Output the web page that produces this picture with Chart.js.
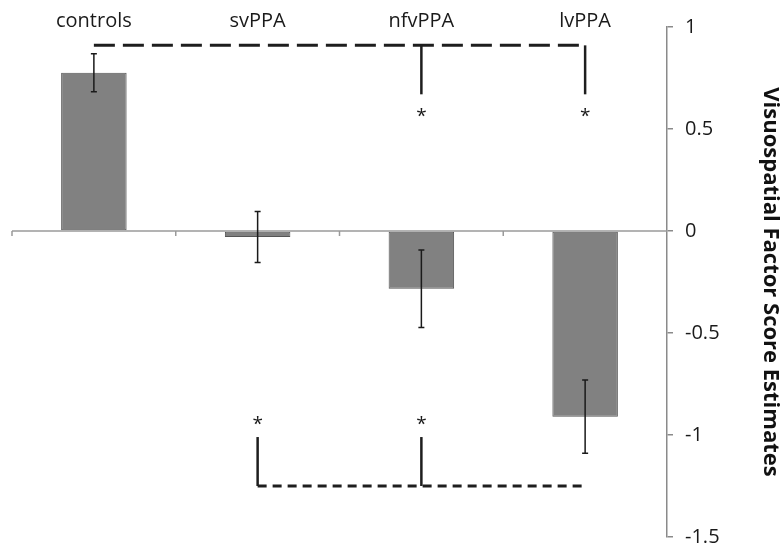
<!DOCTYPE html>
<html>
<head>
<meta charset="utf-8">
<script src="https://cdn.jsdelivr.net/npm/chart.js@4.4.1/dist/chart.umd.min.js"></script>
<style>
  html, body { margin: 0; padding: 0; background: #ffffff; }
  #wrap { width: 783px; height: 555px; position: relative; }
</style>
</head>
<body>
<div id="wrap"><canvas id="factorChart"></canvas></div>
<script>
// groups and factor score estimates
const groups = ["controls", "svPPA", "nfvPPA", "lvPPA"];
const scores = [0.776, -0.03, -0.283, -0.91];
const errors = [0.093, 0.125, 0.19, 0.18];
const yTicks = [1, 0.5, 0, -0.5, -1, -1.5];

// significance brackets
const topBracket = { from: 0, to: 3, lineY: 0.91, stemY: 0.67, starY: 0.58, stems: [2, 3], dash: [21, 8] };
const bottomBracket = { from: 1, to: 3, lineY: -1.25, stemY: -1.01, starY: -0.93, stems: [1, 2], dash: [9, 6] };

const fontFamily = "'Open Sans', 'Liberation Sans', sans-serif";

const overlayPlugin = {
    id: "overlay",
    afterDraw(chart) {
        const ctx = chart.ctx;
        const x = chart.scales.x;
        const y = chart.scales.y;
        const area = chart.chartArea;
        const y0 = y.getPixelForValue(0);

        ctx.save();
        // zero line with category separators
        ctx.strokeStyle = "#9a9a9a";
        ctx.lineWidth = 1.5;
        ctx.beginPath();
        ctx.moveTo(area.left, y0);
        ctx.lineTo(area.right, y0);
        const step = (area.right - area.left) / groups.length;
        for (let i = 0; i < groups.length; i++) {
            const bx = area.left + i * step;
            ctx.moveTo(bx, y0);
            ctx.lineTo(bx, y0 + 5);
        }
        ctx.stroke();

        // error bars
        ctx.strokeStyle = "#1a1a1a";
        ctx.lineWidth = 1.5;
        scores.forEach(function (v, i) {
            const cx = x.getPixelForValue(i);
            const hi = y.getPixelForValue(v + errors[i]);
            const lo = y.getPixelForValue(v - errors[i]);
            ctx.beginPath();
            ctx.moveTo(cx, hi);
            ctx.lineTo(cx, lo);
            ctx.moveTo(cx - 3, hi);
            ctx.lineTo(cx + 3, hi);
            ctx.moveTo(cx - 3, lo);
            ctx.lineTo(cx + 3, lo);
            ctx.stroke();
        });

        // significance brackets
        [topBracket, bottomBracket].forEach(function (b) {
            const ly = y.getPixelForValue(b.lineY);
            ctx.strokeStyle = "#1e1e1e";
            ctx.lineWidth = 3;
            ctx.setLineDash(b.dash);
            ctx.beginPath();
            ctx.moveTo(x.getPixelForValue(b.from), ly);
            ctx.lineTo(x.getPixelForValue(b.to), ly);
            ctx.stroke();
            ctx.setLineDash([]);
            ctx.lineWidth = 2.5;
            b.stems.forEach(function (g) {
                const sx = x.getPixelForValue(g);
                ctx.beginPath();
                ctx.moveTo(sx, ly);
                ctx.lineTo(sx, y.getPixelForValue(b.stemY));
                ctx.stroke();
                ctx.fillStyle = "#1a1a1a";
                ctx.font = "19px " + fontFamily;
                ctx.textAlign = "center";
                ctx.textBaseline = "middle";
                ctx.fillText("*", sx, y.getPixelForValue(b.starY) + 4);
            });
        });
        ctx.restore();
    },
};

const ctx = document.getElementById("factorChart").getContext("2d");
new Chart(ctx, {
    type: "bar",
    data: {
        labels: groups,
        datasets: [
            {
                data: scores,
                backgroundColor: "#818181",
                borderColor: "#555555",
                borderWidth: 1,
                borderSkipped: false,
                categoryPercentage: 1,
                barPercentage: 0.4,
            },
        ],
    },
    options: {
        responsive: true,
        maintainAspectRatio: false,
        animation: false,
        layout: {
            padding: { top: 0, right: 0, bottom: 18, left: 12 },
        },
        plugins: {
            legend: { display: false },
            tooltip: { enabled: false },
        },
        scales: {
            x: {
                position: "top",
                grid: { display: false, drawTicks: false },
                border: { display: false },
                ticks: {
                    color: "#1a1a1a",
                    padding: -6,
                    maxRotation: 0,
                    font: { family: fontFamily, size: 20 },
                },
                afterFit: function (scale) {
                    scale.height = 27;
                },
            },
            y: {
                position: "right",
                min: -1.5,
                max: 1,
                afterBuildTicks: function (scale) {
                    scale.ticks = yTicks.map(function (v) { return { value: v }; });
                },
                grid: {
                    drawOnChartArea: false,
                    drawTicks: true,
                    tickLength: 6,
                    color: "#8a8a8a",
                    lineWidth: 1.5,
                },
                border: { display: true, color: "#8a8a8a", width: 1.5 },
                ticks: {
                    color: "#1a1a1a",
                    padding: 12,
                    font: { family: fontFamily, size: 20 },
                    callback: function (v) { return String(v); },
                },
                title: {
                    display: true,
                    text: "Visuospatial Factor Score Estimates",
                    color: "#111111",
                    font: { family: fontFamily, size: 22, weight: "bold" },
                    padding: { top: 0, bottom: 12 },
                },
                afterFit: function (scale) {
                    scale.width = 116;
                    scale.paddingTop = 0;
                    scale.paddingBottom = 0;
                },
            },
        },
    },
    plugins: [overlayPlugin],
});
</script>
</body>
</html>
